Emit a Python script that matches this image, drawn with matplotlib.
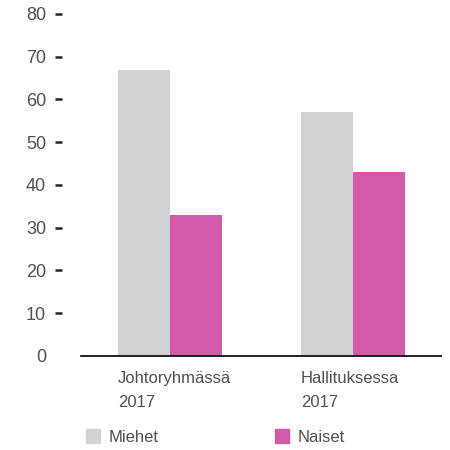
import matplotlib
matplotlib.use("Agg")
import matplotlib.pyplot as plt
import numpy as np
from matplotlib.patches import Patch

categories = ["Johtoryhmässä\n2017", "Hallituksessa\n2017"]
series_names = ["Miehet", "Naiset"]
miehet = [67, 57]
naiset = [33, 43]
yticks = [0, 10, 20, 30, 40, 50, 60, 70, 80]

c_gray = "#d1d2d3"
c_pink = "#d35aab"
txt = "#505050"

plt.rcParams["font.family"] = ["Liberation Sans", "DejaVu Sans"]

fig = plt.figure(figsize=(4.5, 4.5), dpi=100)
ax = fig.add_axes([0.18, 0.209, 0.80, 0.76])

x = np.arange(len(categories))
w = 0.284
ax.bar(x - w / 2, miehet, w, color=c_gray, label=series_names[0])
ax.bar(x + w / 2, naiset, w, color=c_pink, label=series_names[1])

ax.set_xlim(-0.486, 1.481)
ax.set_ylim(0, 80)

for s in ["top", "right"]:
    ax.spines[s].set_visible(False)
ax.spines["left"].set_position(("outward", 13.7))
ax.spines["left"].set_visible(False)
ax.spines["bottom"].set_color("#111111")
ax.spines["bottom"].set_linewidth(1.3)
ax.tick_params(axis="y", length=5, width=1.8, color="#222222", pad=6.5,
               labelsize=13, labelcolor=txt)
ax.tick_params(axis="x", length=0, pad=11, labelsize=12, labelcolor=txt)

ax.set_yticks(yticks)
ax.set_yticklabels([str(v) for v in yticks])
ax.yaxis.get_major_ticks()[0].tick1line.set_visible(False)

ax.set_xticks(x - w)
ax.set_xticklabels(categories, ha="left", linespacing=1.75)

handles = [Patch(color=c_gray), Patch(color=c_pink)]
fig.legend(handles, series_names, loc="center left", bbox_to_anchor=(0.157, 0.029),
           ncol=2, frameon=False, fontsize=12, handlelength=0.85, handleheight=0.85,
           handletextpad=0.5, columnspacing=7.0, labelcolor=txt)

fig.savefig("out.png", dpi=100)
